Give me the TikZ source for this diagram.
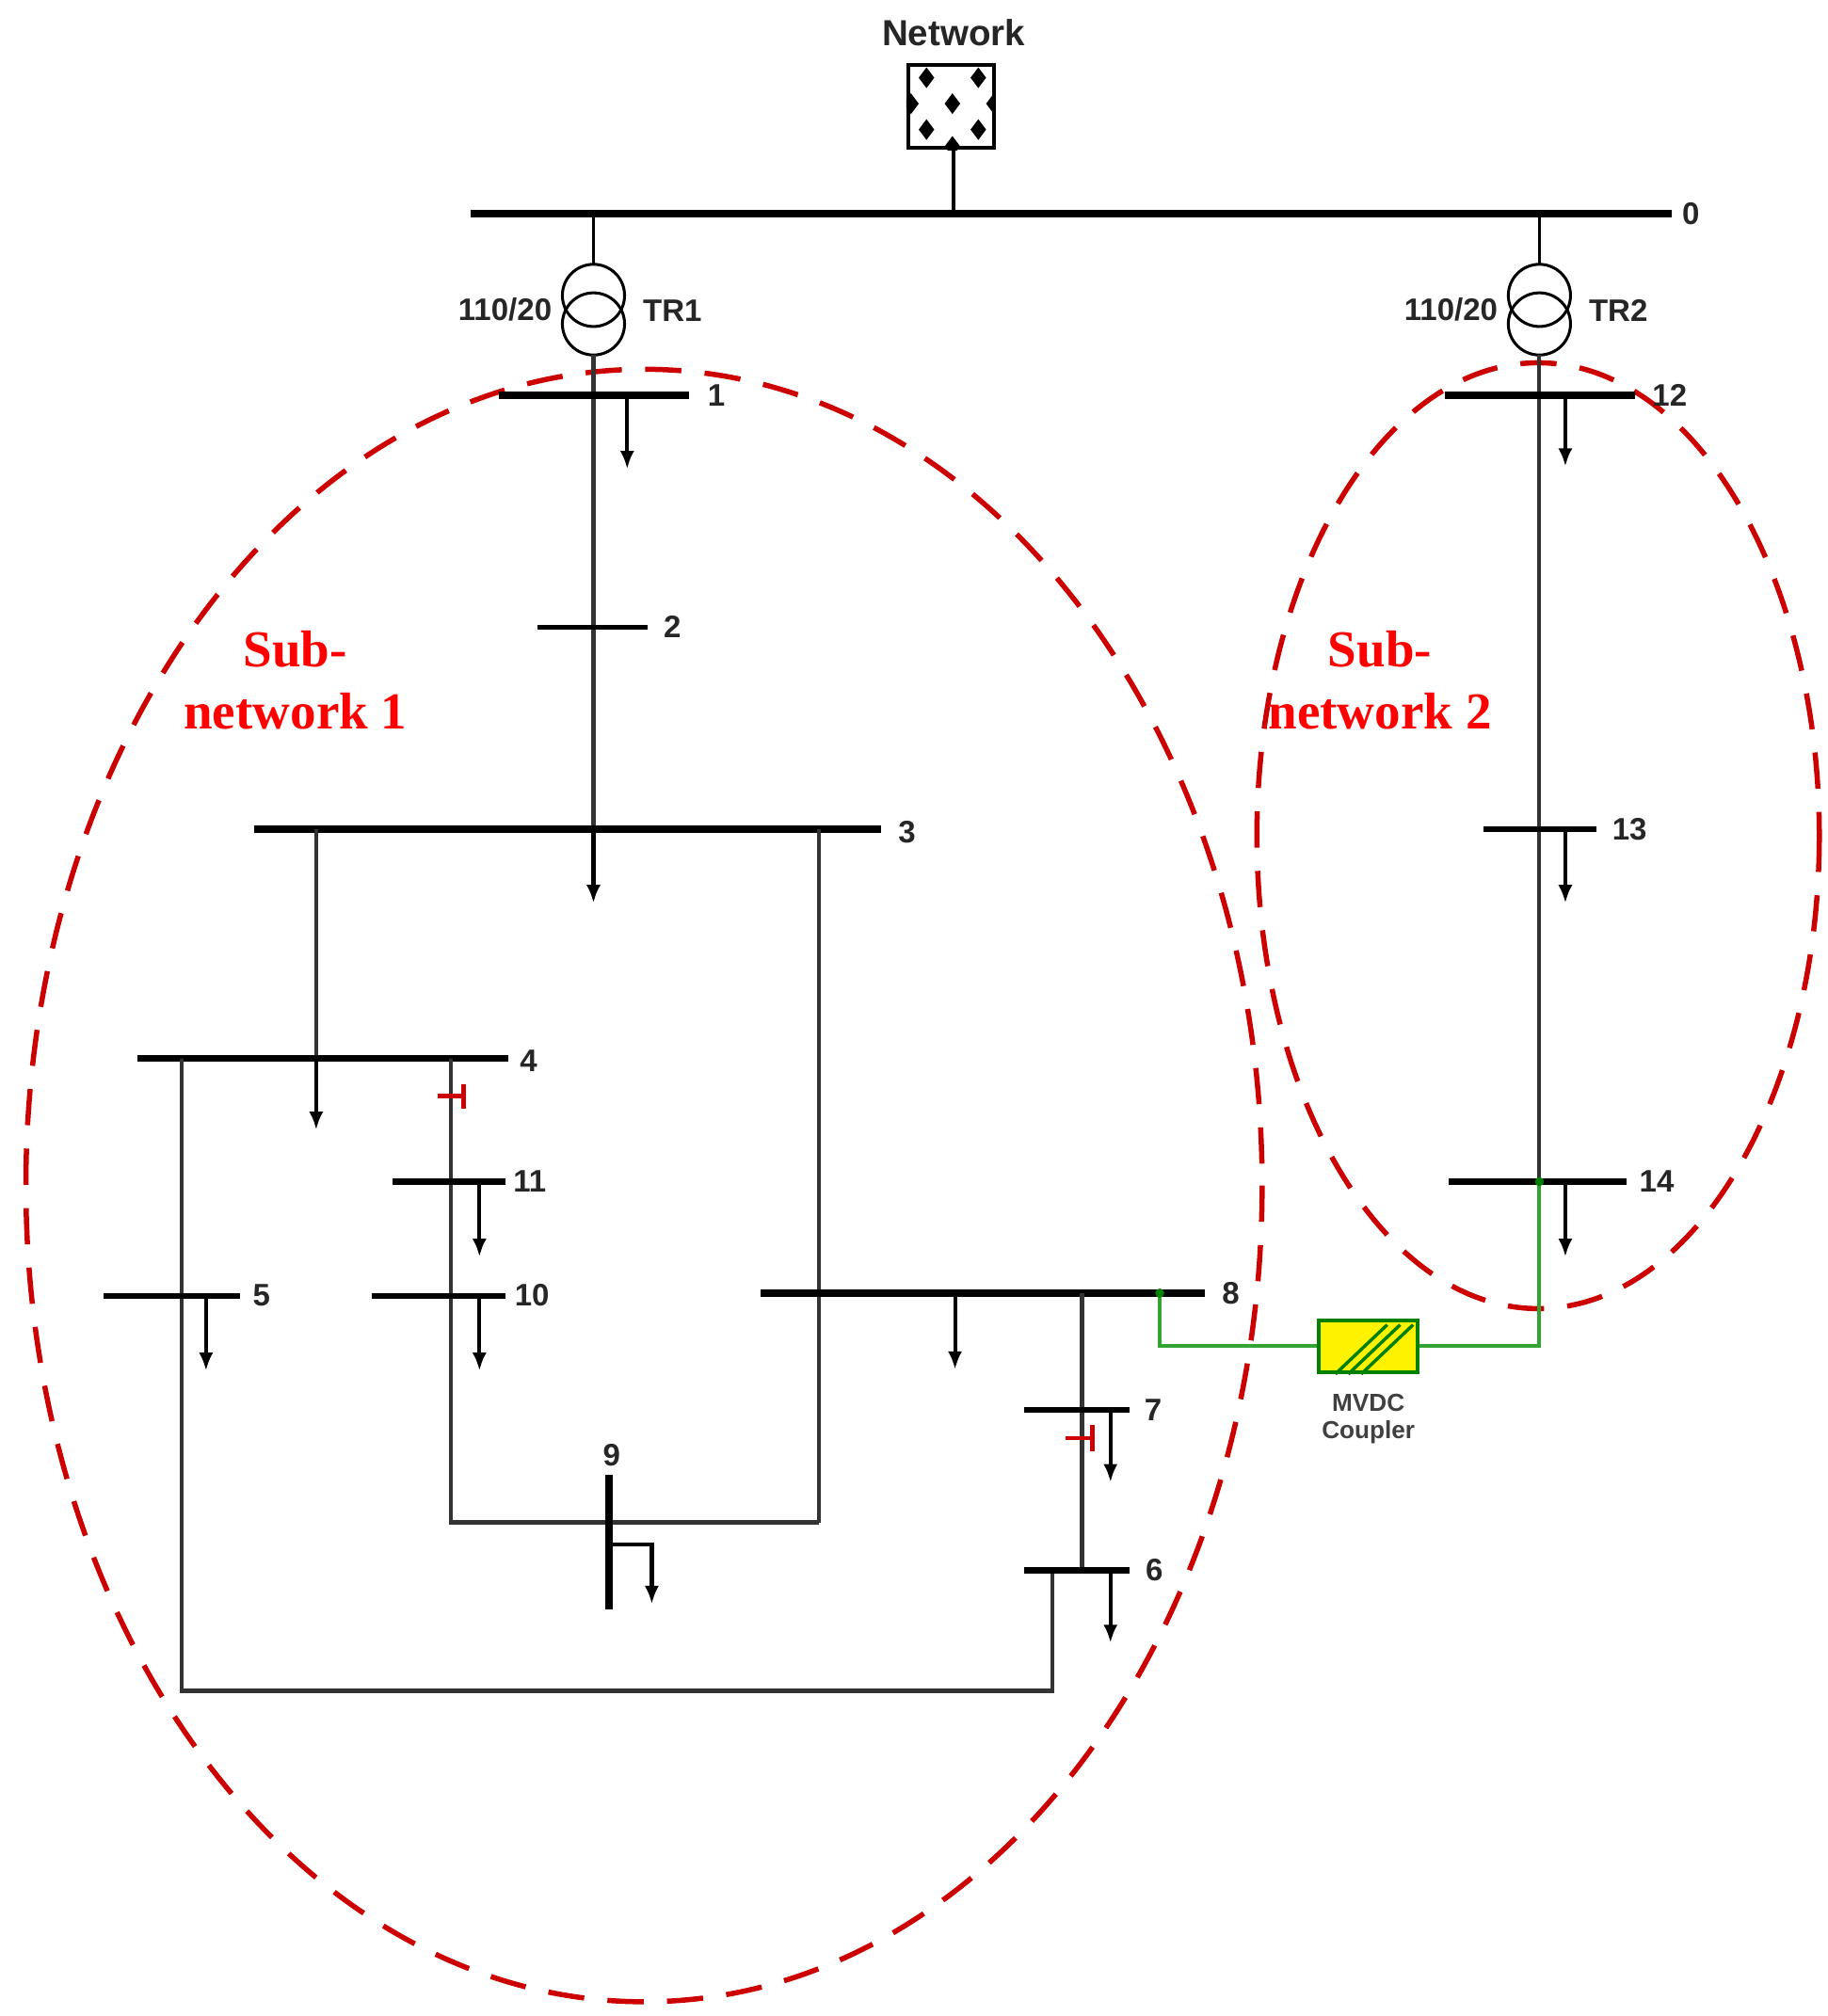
\documentclass[tikz,border=0pt]{standalone}
\usepackage{fontspec}
\setmainfont{Liberation Sans}
\newfontfamily\serifb{Liberation Serif}
\usetikzlibrary{arrows.meta}
\begin{document}
\begin{tikzpicture}[x=1pt,y=-1pt,
  bus/.style={line width=5.5pt},
  ln/.style={line width=3pt,draw=black!80},
  ld/.style={line width=3pt,-{Latex[length=14pt,width=11pt]}},
  lbl/.style={font=\fontsize{24}{26}\selectfont\bfseries, text=black!85, anchor=west, inner sep=0pt},
  brk/.style={line width=3.5pt,red!80!black},
  grn/.style={line width=3pt,draw=green!55!black!80},
  sub/.style={draw=red!80!black,line width=4pt,dash pattern=on 28pt off 18pt},
  subl/.style={text=red,font=\serifb\fontsize{40}{48}\selectfont\bfseries,align=center}]
\useasboundingbox (0,0) rectangle (1410,1556);
% network
\node[font=\fontsize{28}{30}\selectfont\bfseries,text=black!85] (netl) at (736,25) {Network};
\node[draw,line width=3pt,minimum width=66pt,minimum height=64pt,fill=white,inner sep=0] (net) at (734,82) {};
\begin{scope}
\clip (net.south west) rectangle (net.north east);
\foreach \p in {(715,60),(755,60),(735,80),(715,100),(755,100),(703,80),(767,80),(735,113)}
  \fill \p ++(0,-8) -- ++(6,8) -- ++(-6,8) -- ++(-6,-8) -- cycle;
\end{scope}
\draw[bus] (363,165) -- (1290,165);
\node[lbl] (l0) at (1298,165) {0};
\draw[line width=3pt] (736,114) -- (736,165);
% transformers
\foreach \x/\n in {458/1,1188/2}{
  \draw[line width=2.5pt] (\x,165) -- (\x,205);
  \draw[line width=2.2pt] (\x,228) circle (24);
  \draw[line width=2.2pt] (\x,250) circle (24);
  \node[lbl,anchor=east] at (\x-32,239) {110/20};
  \node[lbl] at (\x+38,240) {TR\n};
}
% sub-network ellipses
\draw[sub] (497,915) ellipse (477 and 630);
\draw[sub] (1187,645) ellipse (217 and 365);
\node[subl] (s1) at (228,525) {Sub-\\network 1};
\node[subl] (s2) at (1065,525) {Sub-\\network 2};
% main feeder
\draw[ln] (458,274) -- (458,640);
\draw[bus] (385,305) -- (532,305); \node[lbl] at (546,305) {1};
\draw[ld] (484,305) -- (484,362);
\draw[line width=3.5pt] (415,484) -- (500,484); \node[lbl] at (512,484) {2};
\draw[bus] (196,640) -- (680,640); \node[lbl] at (693,642) {3};
\draw[ld] (458,640) -- (458,697);
% bus 4 branch
\draw[ln] (244,640) -- (244,817);
\draw[ld] (244,817) -- (244,872);
\draw[bus] (106,817) -- (392,817); \node[lbl] at (401,819) {4};
\draw[ln] (348,817) -- (348,1175) -- (632,1175);
\draw[brk] (338,846) -- (358,846); \draw[brk] (358,837) -- (358,856);
\draw[line width=4.5pt] (303,912) -- (390,912); \node[lbl] at (396,912) {11};
\draw[ld] (370,912) -- (370,970);
\draw[line width=4.5pt] (287,1000) -- (390,1000); \node[lbl] at (397,1000) {10};
\draw[ld] (370,1000) -- (370,1058);
\draw[ln] (140,817) -- (140,1305) -- (812,1305) -- (812,1212);
\draw[line width=4.5pt] (80,1000) -- (185,1000); \node[lbl] at (195,1000) {5};
\draw[ld] (159,1000) -- (159,1058);
% bus 9
\draw[line width=5.5pt] (470,1138) -- (470,1242);
\node[lbl,anchor=south] at (472,1132) {9};
\draw[ld] (470,1192) -- (503,1192) -- (503,1238);
% bus 3 to 8
\draw[ln] (632,640) -- (632,1175);
\draw[bus] (587,998) -- (930,998); \node[lbl] at (943,998) {8};
\draw[ld] (737,998) -- (737,1057);
\draw[ln] (835,998) -- (835,1212);
\draw[line width=4.5pt] (790,1088) -- (872,1088); \node[lbl] at (883,1088) {7};
\draw[brk] (822,1110) -- (843,1110); \draw[brk] (843,1100) -- (843,1120);
\draw[ld] (857,1088) -- (857,1144);
\draw[line width=4.5pt] (790,1212) -- (872,1212); \node[lbl] at (884,1212) {6};
\draw[ld] (857,1212) -- (857,1268);
% sub-network 2 feeder
\draw[ln] (1188,274) -- (1188,912);
\draw[bus] (1115,305) -- (1262,305); \node[lbl] at (1275,305) {12};
\draw[ld] (1208,305) -- (1208,360);
\draw[line width=4.5pt] (1145,640) -- (1232,640); \node[lbl] at (1244,640) {13};
\draw[ld] (1208,640) -- (1208,697);
\draw[bus] (1118,912) -- (1255,912); \node[lbl] at (1265,912) {14};
\draw[ld] (1208,912) -- (1208,970);
% MVDC coupler
\node[draw=green!50!black,line width=3pt,fill=yellow,minimum width=76pt,minimum height=40pt,inner sep=0] (mv) at (1056,1039) {};
\foreach \d in {0,10,20}{\draw[green!50!black,line width=2.5pt] ([xshift=\d pt]mv.south west)++(14,0) -- ++(40,-38);}
\node[font=\fontsize{19}{21}\selectfont\bfseries,text=black!75,align=center] (mvl) at (1056,1095) {MVDC\\Coupler};
\draw[grn] (895,998) -- (895,1039) -- (mv.west);
\draw[grn] (mv.east) -- (1188,1039) -- (1188,912);
\fill[green!50!black] (895,998) circle (3.5); \fill[green!50!black] (1188,912) circle (3.5);
\end{tikzpicture}
\end{document}
